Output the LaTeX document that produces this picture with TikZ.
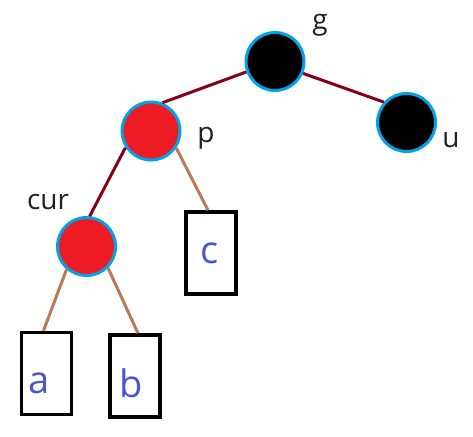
\documentclass[tikz,border=0pt]{standalone}
\usepackage{fontspec}
\setmainfont{Open Sans}
\definecolor{maroonedge}{HTML}{880015}
\definecolor{brownedge}{HTML}{B97A57}
\definecolor{rbred}{HTML}{ED1C24}
\definecolor{rimblue}{HTML}{00A2E8}
\definecolor{leafblue}{HTML}{4A55D0}
\definecolor{labelgray}{HTML}{202020}
\begin{document}
\begin{tikzpicture}[x=1pt,y=-1pt,
  rbnode/.style={circle,draw=rimblue,line width=3pt,minimum size=58pt,inner sep=0pt},
  blacknode/.style={rbnode,fill=black},
  rednode/.style={rbnode,fill=rbred},
  leafbox/.style={rectangle,draw=black,line width=3.5pt,minimum width=50pt,minimum height=82pt,inner sep=0pt},
  leaftext/.style={text=leafblue,inner sep=0pt,font=\fontsize{38}{40}\selectfont},
  nodelabel/.style={text=labelgray,inner sep=0pt,font=\fontsize{28}{30}\selectfont},
  darkedge/.style={draw=maroonedge,line width=3pt},
  lightedge/.style={draw=brownedge,line width=3pt}]
\useasboundingbox (0,0) rectangle (473,436);
\fill[white] (0,0) rectangle (473,436);
% nodes
\node[blacknode] (g) at (275,61.5) {};
\node[blacknode] (u) at (406.5,122.5) {};
\node[rednode] (p) at (151,131) {};
\node[rednode] (cur) at (86.5,246.5) {};
\node[leafbox] (c) at (211,253) {};
\node[leafbox] (a) at (46.5,373.5) {};
\node[leafbox] (b) at (135,376) {};
% texts
\node[leaftext] (ta) at (39,383) {a};
\node[leaftext] (tb) at (131,383) {b};
\node[leaftext] (tc) at (210,253) {c};
\node[nodelabel] (lg) at (320,25) {g};
\node[nodelabel] (lu) at (451,140) {u};
\node[nodelabel] (lp) at (206,138) {p};
\node[nodelabel] (lcur) at (48,202) {cur};
% edges
\draw[darkedge] (g.200) -- (p.68);
\draw[darkedge] (g.337) -- (u.138);
\draw[darkedge] (p.213) -- (cur.84);
\draw[lightedge] (p.326) -- ([xshift=-3pt]c.north);
\draw[lightedge] (cur.229) -- ([xshift=-3pt]a.north);
\draw[lightedge] (cur.315) -- ([xshift=3pt]b.north);
\end{tikzpicture}
\end{document}
